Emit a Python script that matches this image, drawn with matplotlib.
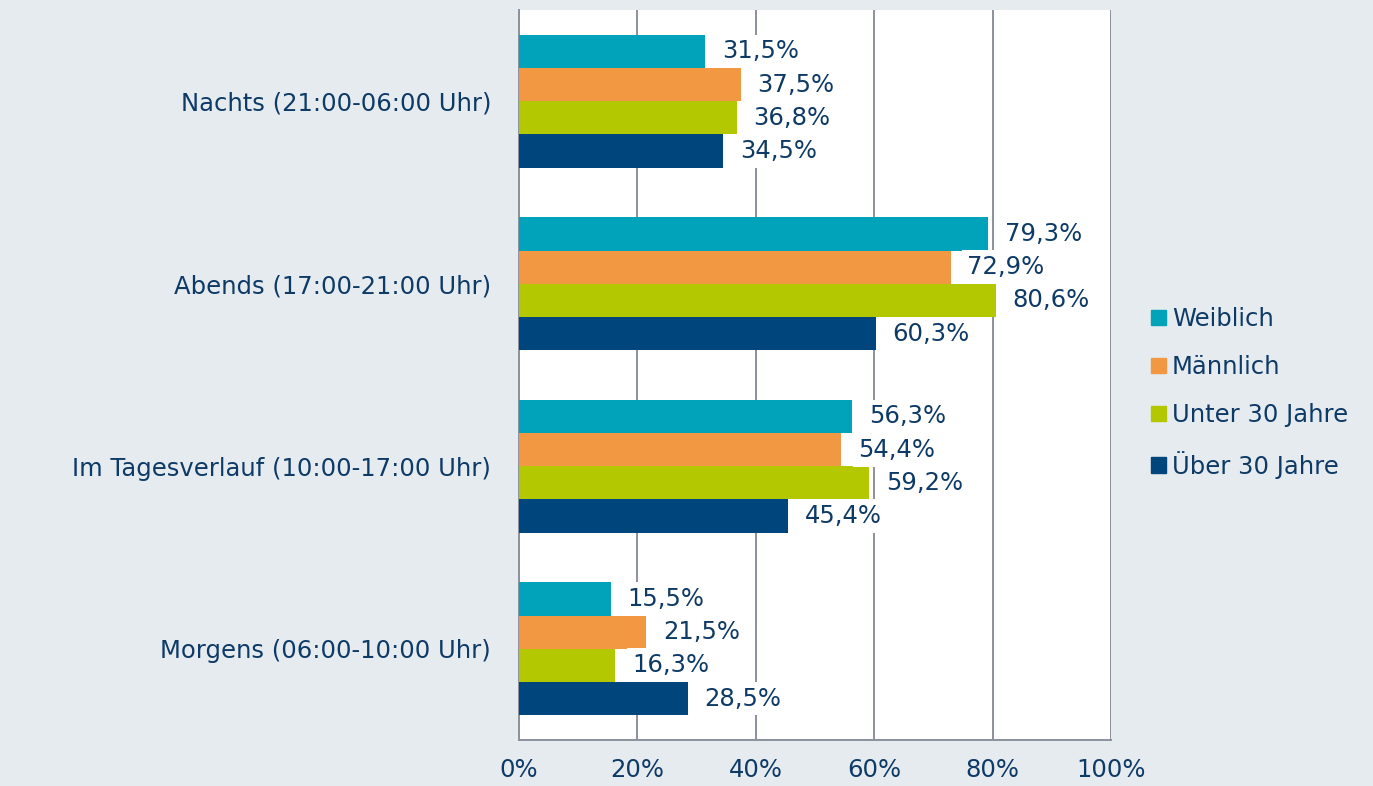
import numpy as np
from matplotlib import pyplot as plt
from matplotlib.patches import Patch

categories = ["Morgens (06:00-10:00 Uhr)", "Im Tagesverlauf (10:00-17:00 Uhr)",
              "Abends (17:00-21:00 Uhr)", "Nachts (21:00-06:00 Uhr)"]
series = ["Weiblich", "Männlich", "Unter 30 Jahre", "Über 30 Jahre"]
weiblich = [15.5, 56.3, 79.3, 31.5]
maennlich = [21.5, 54.4, 72.9, 37.5]
unter30 = [16.3, 59.2, 80.6, 36.8]
ueber30 = [28.5, 45.4, 60.3, 34.5]
xticks = [0, 20, 40, 60, 80, 100]

colors = ["#00a3b9", "#f29842", "#b3c800", "#00457c"]
text_color = "#0e3a66"
bg = "#e6ebf0"
grid_color = "#8c919e"
fs = 17.5

plt.rcParams['font.family'] = ['DejaVu Sans']

fig = plt.figure(figsize=(13.73, 7.86), dpi=100, facecolor=bg)
ax = fig.add_axes([519 / 1373, 1 - 740 / 786, 592 / 1373, 730 / 786])
ax.set_facecolor("white")

y = np.arange(len(categories))
h = 0.182
offsets = [1.5, 0.5, -0.5, -1.5]
for vals, col, off in zip([weiblich, maennlich, unter30, ueber30], colors, offsets):
    ax.barh(y + off * h, vals, height=h, color=col, zorder=3)
    for yi, v in zip(y, vals):
        ax.annotate(f"{v:.1f}%".replace(".", ","), (v, yi + off * h),
                    xytext=(12, 0), textcoords="offset points",
                    va="center", ha="left", fontsize=fs, color=text_color,
                    bbox=dict(boxstyle="square,pad=0.2", fc="white", ec="none"),
                    zorder=4)

ax.set_xlim(0, 100)
ax.set_ylim(-0.5, 3.5)
ax.set_xticks(xticks)
ax.set_xticklabels([f"{t}%" for t in xticks])
ax.set_yticks(y)
ax.set_yticklabels(categories)
ax.tick_params(axis="both", length=0, labelsize=fs, colors=text_color)
ax.tick_params(axis="x", pad=13)
ax.tick_params(axis="y", pad=20)
ax.grid(axis="x", color=grid_color, linewidth=1.4, zorder=1)
for s in ["top", "right"]:
    ax.spines[s].set_visible(False)
for s in ["left", "bottom"]:
    ax.spines[s].set_color(grid_color)
    ax.spines[s].set_linewidth(1.4)

handles = [Patch(color=c) for c in colors]
fig.legend(handles, series, loc="center left", bbox_to_anchor=(1139 / 1373, 1 - 393 / 786),
           frameon=False, fontsize=fs, labelcolor=text_color, handlelength=0.6,
           handleheight=0.6, handletextpad=0.25, labelspacing=0.98, borderpad=0)

fig.savefig("out.png", dpi=100, facecolor=bg)
